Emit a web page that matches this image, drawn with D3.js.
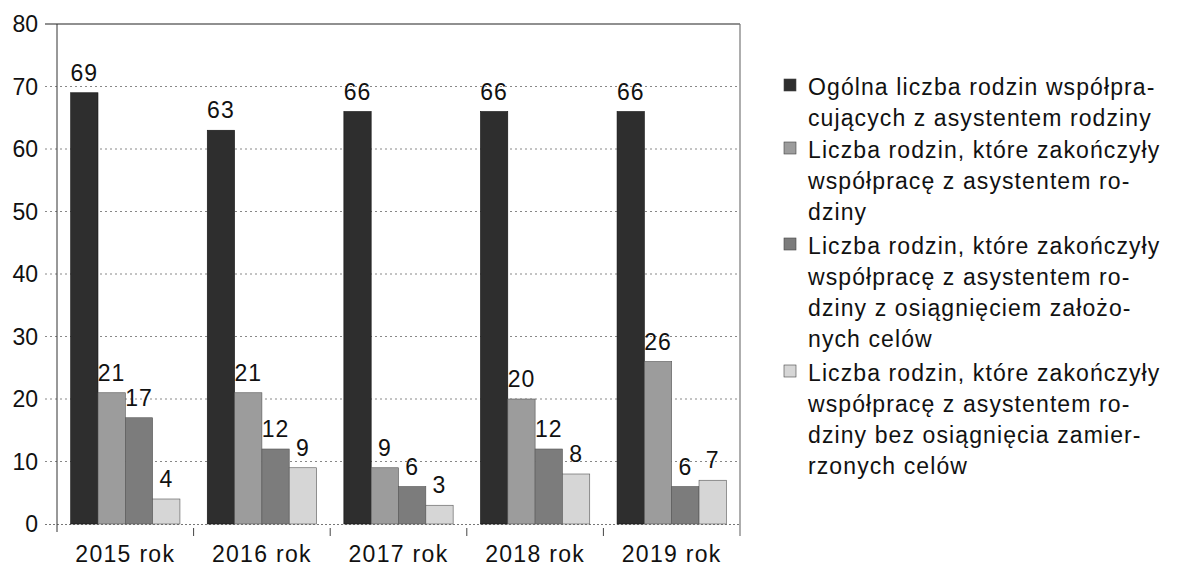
<!DOCTYPE html>
<html><head><meta charset="utf-8">
<script src="https://cdn.jsdelivr.net/npm/d3@7"></script>
<style>
html,body{margin:0;padding:0;background:#fff;}
text{font-family:"Liberation Sans",Arial,sans-serif;fill:#111;}
</style></head>
<body><svg id="c" width="1178" height="569"></svg>
<script>
const categories = ["2015 rok","2016 rok","2017 rok","2018 rok","2019 rok"];
const seriesOgolna = [69,63,66,66,66];
const seriesZakonczyly = [21,21,9,20,26];
const seriesZOsiagnieciem = [17,12,6,12,6];
const seriesBezOsiagniecia = [4,9,3,8,7];
const yTicks = [0,10,20,30,40,50,60,70,80];
const legendLines = [
  ["Ogólna liczba rodzin współpra-","cujących z asystentem rodziny"],
  ["Liczba rodzin, które zakończyły","współpracę z asystentem ro-","dziny"],
  ["Liczba rodzin, które zakończyły","współpracę z asystentem ro-","dziny z osiągnięciem założo-","nych celów"],
  ["Liczba rodzin, które zakończyły","współpracę z asystentem ro-","dziny bez osiągnięcia zamier-","rzonych celów"]
];
const colors = ["#2e2e2e","#9c9c9c","#7c7c7c","#d6d6d6"];

const series = [seriesOgolna, seriesZakonczyly, seriesZOsiagnieciem, seriesBezOsiagniecia];
const svg = d3.select("#c");
const L = 57, R = 740, T = 24, B = 524;
const x = d3.scaleBand().domain(categories).range([L,R]).paddingInner(0.2).paddingOuter(0.1);
const x0 = d3.scaleBand().domain(categories).range([L,R]);
const xs = d3.scaleBand().domain(d3.range(4)).range([0, x.bandwidth()]);
const y = d3.scaleLinear().domain([0,80]).range([B,T]);

// gridlines
svg.append("g").selectAll("line").data(yTicks.filter(t=>t>0 && t<80)).join("line")
  .attr("x1",45).attr("x2",R).attr("y1",d=>y(d)).attr("y2",d=>y(d))
  .attr("stroke","#888").attr("stroke-width",1).attr("stroke-dasharray","2,3");
// baseline
svg.append("line").attr("x1",45).attr("x2",R).attr("y1",y(0)+0.5).attr("y2",y(0)+0.5)
  .attr("stroke","#777").attr("stroke-dasharray","2,2");
// top line
svg.append("line").attr("x1",45).attr("x2",R).attr("y1",y(80)).attr("y2",y(80))
  .attr("stroke","#222").attr("stroke-width",1.2);
// left axis
svg.append("line").attr("x1",L).attr("x2",L).attr("y1",T).attr("y2",B+8)
  .attr("stroke","#333").attr("stroke-width",1);
// right border
svg.append("line").attr("x1",R).attr("x2",R).attr("y1",T).attr("y2",B+12)
  .attr("stroke","#777").attr("stroke-width",1.2);
// y labels
svg.append("g").selectAll("text").data(yTicks).join("text")
  .attr("x",38).attr("y",d=>y(d)+8).attr("text-anchor","end")
  .attr("font-size",23).text(d=>d);
// category separator ticks
svg.append("g").selectAll("line").data(categories.slice(1)).join("line")
  .attr("x1",d=>x0(d)).attr("x2",d=>x0(d)).attr("y1",B+4).attr("y2",B+12)
  .attr("stroke","#444");
// bars
const g = svg.append("g");
series.forEach((vals,si)=>{
  g.selectAll(null).data(vals).join("rect")
    .attr("x",(d,i)=>x(categories[i])+xs(si))
    .attr("y",d=>y(d)).attr("width",xs.bandwidth()).attr("height",d=>y(0)-y(d))
    .attr("fill",colors[si]).attr("stroke", si===0?"#111":"#555").attr("stroke-width",0.6);
  g.selectAll(null).data(vals).join("text")
    .attr("x",(d,i)=>x(categories[i])+xs(si)+xs.bandwidth()/2)
    .attr("y",d=>y(d)-12).attr("text-anchor","middle").attr("font-size",23)
    .attr("letter-spacing",1).text(d=>d);
});
// category labels
svg.append("g").selectAll("text").data(categories).join("text")
  .attr("x",d=>x0(d)+x0.bandwidth()/2).attr("y",562).attr("text-anchor","middle")
  .attr("font-size",23).attr("letter-spacing",1.3).text(d=>d);
// legend
const lineH = 31;
const entryStart = [95, 158, 254, 381];
legendLines.forEach((lines,i)=>{
  svg.append("rect").attr("x",784).attr("y",entryStart[i]-16).attr("width",12).attr("height",12)
    .attr("fill",colors[i]).attr("stroke","#444").attr("stroke-width",0.6);
  lines.forEach((ln,j)=>{
    svg.append("text").attr("x",808).attr("y",entryStart[i]+j*lineH)
      .attr("font-size",23).attr("letter-spacing",1.1).text(ln);
  });
});
</script></body></html>
